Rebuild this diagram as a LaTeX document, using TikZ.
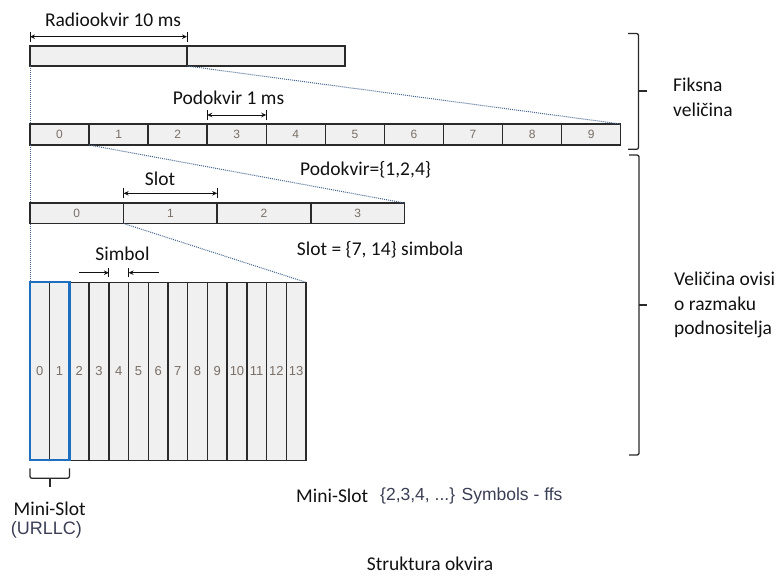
\documentclass[tikz,border=0pt]{standalone}
\usepackage{fontspec}
\setmainfont{Carlito}
\newfontfamily\arialf{Liberation Sans}
\usetikzlibrary{arrows.meta}
\definecolor{barfill}{HTML}{F0F0F0}
\definecolor{barline}{HTML}{2A2A2A}
\definecolor{numcol}{HTML}{7A6F66}
\definecolor{dotcol}{HTML}{45668F}
\definecolor{minicol}{HTML}{1F6FC0}
\definecolor{arialcol}{HTML}{3A3F55}
\definecolor{txtcol}{HTML}{111111}
\begin{document}
\begin{tikzpicture}[x=1pt,y=-1pt,
  cell/.style={draw=barline, fill=barfill, line width=1.5pt, minimum height=#1,
    inner sep=0pt, outer sep=0pt, anchor=north west, text=numcol},
  numA/.style={font=\arialf\fontsize{12}{13}\selectfont},
  numB/.style={font=\arialf\fontsize{13}{14}\selectfont},
  lbl/.style={font=\fontsize{19.5}{24.5}\selectfont, text=txtcol, inner sep=0pt},
  arlbl/.style={font=\arialf\fontsize{17.5}{20}\selectfont, text=arialcol, inner sep=0pt},
  dots/.style={densely dotted, draw=dotcol, line width=1pt},
  dimarrow/.style={draw=txtcol, line width=0.9pt, {Stealth[length=5pt,width=4.5pt]}-{Stealth[length=5pt,width=4.5pt]}},
  onearrow/.style={draw=txtcol, line width=0.9pt, -{Stealth[length=5pt,width=4.5pt]}},
  tickline/.style={draw=txtcol, line width=0.9pt},
  bracepath/.style={draw=barline, line width=1.3pt, rounded corners=2pt}]
\useasboundingbox (0,0) rectangle (781,576);

% radio frame
\node[cell=20, minimum width=157] (r0) at (30,46) {};
\node[cell=20, minimum width=158] (r1) at (187,46) {};
% subframes
\foreach \i in {0,...,9}
  \node[cell=21, minimum width=59.07, numA] (sf\i) at ({30+59.07*\i},124) {\i};
% slots
\foreach \i in {0,...,3}
  \node[cell=20.5, minimum width=93.6, numA] (sl\i) at ({30+93.6*\i},203) {\i};
% symbols
\foreach \i in {0,...,13}
  \node[cell=178, minimum width=19.714, numB] (sy\i) at ({30+19.714*\i},282.3) {\i};
% mini-slot highlight
\draw[draw=minicol, line width=2.2pt] (sy0.north west) rectangle (sy1.south east);

% dotted zoom lines
\draw[dots] (r0.south west) -- (sf0.north west);
\draw[dots] (sf0.south west) -- (sl0.north west);
\draw[dots] (sl0.south west) -- (sy0.north west);
\draw[dots] (r1.south west) -- (sf9.north east);
\draw[dots] (sf1.south west) -- (sl3.north east);
\draw[dots] (sl1.south west) -- (sy13.north east);

% dimension arrows
\draw[dimarrow] ([yshift=9.3pt]r0.north west) -- ([yshift=9.3pt]r0.north east);
\draw[tickline] ([yshift=4pt]r0.north west) -- ([yshift=14pt]r0.north west);
\draw[tickline] ([yshift=4pt]r0.north east) -- ([yshift=14pt]r0.north east);

\draw[dimarrow] ([yshift=9pt]sf3.north west) -- ([yshift=9pt]sf3.north east);
\draw[tickline] ([yshift=4pt]sf3.north west) -- ([yshift=14pt]sf3.north west);
\draw[tickline] ([yshift=4pt]sf3.north east) -- ([yshift=14pt]sf3.north east);

\draw[dimarrow] ([yshift=9.7pt]sl1.north west) -- ([yshift=9.7pt]sl1.north east);
\draw[tickline] ([yshift=5pt]sl1.north west) -- ([yshift=15pt]sl1.north west);
\draw[tickline] ([yshift=5pt]sl1.north east) -- ([yshift=15pt]sl1.north east);

\draw[onearrow] ([xshift=-30pt,yshift=9.6pt]sy4.north west) -- ([yshift=9.6pt]sy4.north west);
\draw[onearrow] ([xshift=30pt,yshift=9.6pt]sy4.north east) -- ([yshift=9.6pt]sy4.north east);
\draw[tickline] ([yshift=5pt]sy4.north west) -- ([yshift=14pt]sy4.north west);
\draw[tickline] ([yshift=5pt]sy4.north east) -- ([yshift=14pt]sy4.north east);

% labels
\node[lbl] (lradio) at (113,20) {Radiookvir 10 ms};
\node[lbl] (lsub) at (228.5,97.7) {Podokvir 1 ms};
\node[lbl] (lslot) at (160,178.3) {Slot};
\node[lbl] (lsym) at (122.5,254) {Simbol};
\node[lbl, anchor=west] (lsubset) at (300,169.3) {Podokvir=\{1,2,4\}};
\node[lbl, anchor=west] (lslotset) at (296.7,249.3) {Slot = \{7, 14\} simbola};
\node[lbl] (lmini) at (49.7,508.3) {Mini-Slot};
\node[arlbl, font=\arialf\fontsize{18}{20}\selectfont] (lurllc) at (46.5,530) {(URLLC)};
\node[lbl, anchor=west] (lmini2) at (296,496) {Mini-Slot};
\node[arlbl, anchor=west] (lminiset) at (380,496) {\{2,3,4, ...\} Symbols - ffs};
\node[lbl] (ltitle) at (430,564) {Struktura okvira};
\node[lbl, anchor=west, align=left] (lfix) at (673,97.5) {Fiksna\\veličina};
\node[lbl, anchor=west, align=left] (lvar) at (674,305) {Veličina ovisi\\o razmaku\\podnositelja};

% right braces
\coordinate (b1t) at (628,33.5);
\coordinate (b1b) at (628,149.3);
\draw[bracepath] (b1t) -- (638.5,33.5) -- (638.5,149.3) -- (b1b);
\draw[draw=barline, line width=1.3pt] (638.5,91) -- (647,91);
\coordinate (b2t) at (629,155);
\coordinate (b2b) at (629,455);
\draw[bracepath] (b2t) -- (639,155) -- (639,455) -- (b2b);
\draw[draw=barline, line width=1.3pt] (639,305) -- (647.3,305);

% mini-slot brace
\draw[bracepath] ([yshift=-8pt]sy0.south west) -- ([yshift=-18pt]sy0.south west) -- ([yshift=-18pt]sy1.south east) -- ([yshift=-8pt]sy1.south east);
\draw[draw=barline, line width=1.8pt] ([yshift=-18pt]sy0.south east) -- ([yshift=-27pt]sy0.south east);
\end{tikzpicture}
\end{document}
